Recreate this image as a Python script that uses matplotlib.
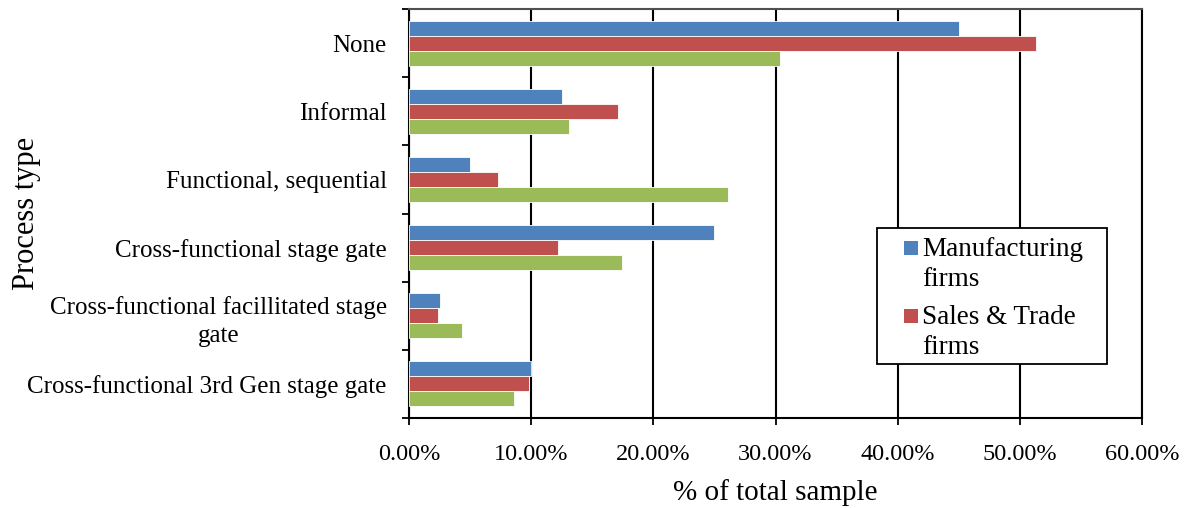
import numpy as np
import matplotlib
matplotlib.use('Agg')
import matplotlib.pyplot as plt
from matplotlib.patches import Rectangle
from matplotlib.ticker import FuncFormatter

plt.rcParams['font.family'] = ['Liberation Serif', 'DejaVu Serif']

categories = ['None', 'Informal', 'Functional, sequential', 'Cross-functional stage gate',
              'Cross-functional facillitated stage\ngate', 'Cross-functional 3rd Gen stage gate']
manufacturing = [45.0, 12.5, 5.0, 25.0, 2.5, 10.0]
sales_trade = [51.3, 17.1, 7.3, 12.2, 2.4, 9.8]
total = [30.4, 13.1, 26.1, 17.4, 4.3, 8.6]
series_labels = ['Manufacturing\nfirms', 'Sales & Trade\nfirms']
colors = ['#4F81BD', '#C0504D', '#9BBB59']

fig = plt.figure(figsize=(11.85, 5.08), dpi=100)
ax = fig.add_axes([409/1185, 1-418/508, 733/1185, 409/508])

n = len(categories)
y = np.arange(n)[::-1].astype(float)
h = 0.22
for i, (vals, c) in enumerate(zip([manufacturing, sales_trade, total], colors)):
    ax.barh(y + h - i*h, vals, height=h, color=c, edgecolor='white', linewidth=0.6, zorder=3)

ax.set_xlim(0, 60)
ax.set_ylim(-0.5, n - 0.5)
ax.set_xticks(np.arange(0, 61, 10))
ax.xaxis.set_major_formatter(FuncFormatter(lambda v, p: f'{v:.2f}%'))
ax.grid(axis='x', color='black', linewidth=1.5, zorder=1)

# ticks at category boundaries, labels at centres
ax.set_yticks(np.arange(-0.5, n, 1.0))
ax.set_yticklabels([])
ax.set_yticks(y, minor=True)
ax.set_yticklabels(categories, minor=True, fontsize=18, ha='right', multialignment='center',
                   linespacing=1.35)
ax.tick_params(axis='y', which='minor', length=0, pad=16)
ax.tick_params(axis='y', which='major', length=5, width=1.3, direction='out')
ax.tick_params(axis='x', length=5, width=1.3, labelsize=17.5, pad=14)

for s in ax.spines.values():
    s.set_linewidth(1.5)
    s.set_color('black')
ax.spines['top'].set_color('#505050')

ax.set_xlabel('% of total sample', fontsize=21, labelpad=10)
ax.set_ylabel('Process type', fontsize=22, labelpad=10)
ax.yaxis.set_label_coords(-368/733, 0.5)

# legend box: only the two firm groups are listed
ax.add_patch(Rectangle((0.6385, 0.132), 0.3138, 0.3325, transform=ax.transAxes,
                       facecolor='white', edgecolor='black', linewidth=1.3, zorder=5))
for lab, c, sq_y, txt_y in zip(series_labels, colors, [0.3985, 0.2323], [0.3227, 0.1565]):
    ax.add_patch(Rectangle((0.6753, sq_y), 0.0191, 0.0342, transform=ax.transAxes,
                           facecolor=c, edgecolor='none', zorder=6))
    # baseline of the last line
    ax.text(0.6999, txt_y, lab, transform=ax.transAxes, fontsize=19.5, va='baseline',
            ha='left', linespacing=1.25, zorder=6)

fig.savefig('out.png', dpi=100)
